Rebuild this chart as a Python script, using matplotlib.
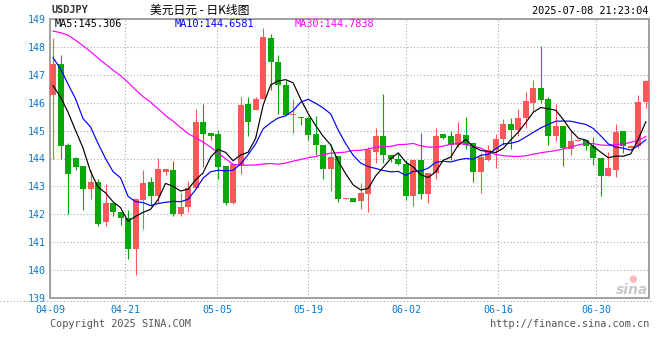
import numpy as np
import pandas as pd
import matplotlib
matplotlib.use('Agg')
import matplotlib.pyplot as plt
from matplotlib.lines import Line2D

# daily USDJPY candles, 04-09 .. 07-08
opens = [146.26, 147.38, 144.48, 144.03, 143.73, 142.91, 143.16, 141.71, 142.42, 142.10,
         141.87, 140.74, 142.50, 143.16, 142.64, 143.52, 143.59, 142.02, 142.25, 142.93,
         145.30, 144.91, 144.88, 143.73, 142.40, 143.76, 145.95, 145.73, 146.12, 148.31,
         147.47, 146.62, 145.56, 145.50, 145.44, 144.88, 144.49, 143.61, 144.08, 142.56,
         142.57, 142.47, 142.71, 144.25, 144.80, 144.13, 143.99, 143.81, 142.65, 143.95,
         142.71, 143.49, 144.88, 144.81, 144.49, 144.85, 144.55, 143.51, 143.96, 144.32,
         144.70, 145.24, 145.02, 145.44, 145.99, 146.54, 146.15, 144.79, 145.17, 144.34,
         144.63, 144.65, 144.46, 144.00, 143.38, 143.59, 144.97, 144.36, 144.44, 146.01]
highs = [148.31, 147.72, 144.54, 144.06, 143.73, 143.59, 143.25, 143.09, 142.42, 142.10,
         142.16, 142.54, 143.59, 143.35, 144.03, 143.62, 143.91, 142.76, 143.21, 145.76,
         145.96, 144.91, 145.03, 143.73, 143.81, 146.21, 146.21, 146.21, 148.68, 148.47,
         147.70, 146.80, 146.12, 145.50, 145.52, 145.52, 144.49, 144.52, 144.08, 142.58,
         142.57, 143.12, 144.43, 145.10, 146.30, 144.13, 144.19, 143.95, 143.95, 144.90,
         143.48, 145.09, 144.88, 144.97, 145.32, 145.47, 144.55, 144.20, 144.49, 144.88,
         145.40, 145.44, 145.77, 146.38, 146.80, 148.04, 146.21, 145.97, 145.17, 144.97,
         144.65, 144.65, 144.77, 144.03, 144.24, 145.24, 144.97, 144.50, 146.27, 146.82]
lows = [143.97, 144.00, 142.02, 143.59, 142.16, 142.56, 141.59, 141.57, 141.93, 141.61,
        140.41, 139.81, 141.49, 142.28, 142.40, 143.42, 141.93, 141.93, 142.10, 142.91,
        143.71, 144.65, 143.25, 142.33, 142.37, 143.43, 144.81, 145.73, 146.12, 146.44,
        145.59, 145.56, 144.91, 145.20, 144.65, 144.14, 143.25, 142.82, 142.43, 142.56,
        142.43, 142.18, 142.08, 143.83, 143.83, 143.89, 143.75, 142.51, 142.30, 142.56,
        142.39, 143.25, 144.71, 143.96, 144.41, 144.34, 143.16, 142.78, 143.90, 143.67,
        144.49, 144.34, 144.79, 145.08, 145.67, 145.99, 144.49, 144.64, 143.73, 144.14,
        144.63, 144.30, 143.75, 142.67, 143.38, 143.32, 144.20, 144.36, 144.38, 145.82]
closes = [147.38, 144.44, 143.44, 143.71, 142.91, 143.16, 141.67, 142.40, 142.10, 141.86,
          140.74, 142.54, 143.11, 142.64, 143.62, 143.62, 142.02, 142.27, 142.96, 145.30,
          144.88, 144.82, 143.69, 142.40, 143.81, 145.91, 145.32, 146.15, 148.35, 147.45,
          146.62, 145.56, 145.58, 145.44, 144.85, 144.47, 143.64, 144.04, 142.55, 142.58,
          142.45, 142.75, 144.31, 144.80, 144.11, 143.99, 143.80, 142.65, 143.95, 142.71,
          143.48, 144.81, 144.75, 144.49, 144.88, 144.49, 143.51, 144.06, 144.32, 144.70,
          145.24, 145.02, 145.44, 146.05, 146.54, 146.09, 144.79, 145.17, 144.38, 144.64,
          144.65, 144.46, 144.00, 143.38, 143.65, 144.94, 144.44, 144.44, 146.01, 146.76]

# moving-average values before enough closes are on the chart
ma5_head = [146.61, 146.20, 145.66, 145.01]
ma10_head = [147.62, 147.21, 146.67, 146.14, 145.43, 145.13, 144.54, 144.00, 143.53]
ma30_head = [148.57, 148.51, 148.42, 148.24, 148.04, 147.83, 147.60, 147.38, 147.17, 146.97,
             146.73, 146.46, 146.22, 146.02, 145.78, 145.54, 145.34, 145.11, 144.89, 144.75,
             144.59, 144.41, 144.20, 143.99, 143.79, 143.76, 143.76, 143.77, 143.80]
ma_last = [145.306, 144.6581, 144.7838]

date_labels = ['04-09', '04-21', '05-05', '05-19', '06-02', '06-16', '06-30']
date_pos = [-0.4, 9.63, 21.9, 34.0, 47.04, 59.34, 72.36]

c = pd.Series(closes)
ma5 = c.rolling(5).mean().values
ma5[:4] = ma5_head
ma10 = c.rolling(10).mean().values
ma10[:9] = ma10_head
ma30 = c.rolling(30).mean().values
ma30[:29] = ma30_head

RED = '#fa5858'
GREEN = '#08a808'
BLUE_TXT = '#0a78cc'
MONO = 'DejaVu Sans Mono'

W, H = 660, 360
fig = plt.figure(figsize=(6.6, 3.6), dpi=100)
ax = fig.add_axes([50 / W, 1 - 298 / H, 599 / W, 279 / H])

x = np.arange(len(closes))
for i in x:
    o, h, l, cl = opens[i], highs[i], lows[i], closes[i]
    col = RED if cl >= o else GREEN
    ax.vlines(i, l, h, color=col, lw=0.8, zorder=2)
    body = max(abs(cl - o), 0.04)
    ax.bar(i, body, bottom=min(o, cl), width=0.8, color=col, lw=0, zorder=3)

ax.plot(x, ma30, color='#ff00ff', lw=0.85, zorder=4)
ax.plot(x, ma10, color='#0000ff', lw=0.85, zorder=4)
ax.plot(x, ma5, color='black', lw=0.85, zorder=5)

ax.set_xlim(-0.4, 79.42)
ax.set_ylim(139, 149)
ax.set_yticks(np.arange(139, 150))
ax.set_xticks(date_pos)
ax.set_xticklabels(date_labels)
ax.grid(True, color='#aaaaaa', linestyle=(0, (1, 2)), lw=0.8, zorder=0)
ax.tick_params(length=0, labelsize=7.2, labelcolor=BLUE_TXT, pad=3)
ax.tick_params(axis='x', pad=5)
for lab in ax.get_xticklabels() + ax.get_yticklabels():
    lab.set_family(MONO)
for s in ax.spines.values():
    s.set_color('#a0a0a0')
    s.set_linewidth(1.4)

# dotted line just below the frame
fig.add_artist(Line2D([0, 651 / W], [1 - 300.5 / H] * 2, transform=fig.transFigure,
                      color='#aaaaaa', ls=(0, (1, 2)), lw=0.8))

def ftext(px, py, s, **kw):
    fig.text(px / W, 1 - py / H, s, **kw)

ftext(51, 10, 'USDJPY', family=MONO, fontsize=7.4, color='#333333', va='center', weight='bold')
ftext(200, 10, '美元日元 - 日K线图', family=['Noto Sans CJK SC', 'DejaVu Sans'],
      fontsize=8.5, color='black', va='center', ha='center')
ftext(648, 11, '2025-07-08 21:23:04', family=MONO, fontsize=7.4, color='black',
      va='center', ha='right')
ftext(55, 24, 'MA5:%.3f' % ma_last[0], family=MONO, fontsize=7.4, color='black', va='center')
ftext(175, 24, 'MA10:%.4f' % ma_last[1], family=MONO, fontsize=7.4, color='#0000ff', va='center')
ftext(295, 24, 'MA30:%.4f' % ma_last[2], family=MONO, fontsize=7.4, color='#ff00ff', va='center')
ftext(50, 324, 'Copyright 2025 SINA.COM', family=MONO, fontsize=7.4, color='#555555', va='center')
ftext(649, 324, 'http://finance.sina.com.cn', family=MONO, fontsize=7.4, color='#555555',
      va='center', ha='right')
# faint sina watermark
ftext(632, 290, 'sina', family='DejaVu Sans', fontsize=10, color='#bbbbbb', style='italic',
      weight='bold', ha='center', va='center', alpha=0.8)
ftext(633, 279, '●', family='DejaVu Sans', fontsize=7, color='#f2a0a0', ha='center',
      va='center', alpha=0.7)

fig.savefig('out.png', dpi=100)
